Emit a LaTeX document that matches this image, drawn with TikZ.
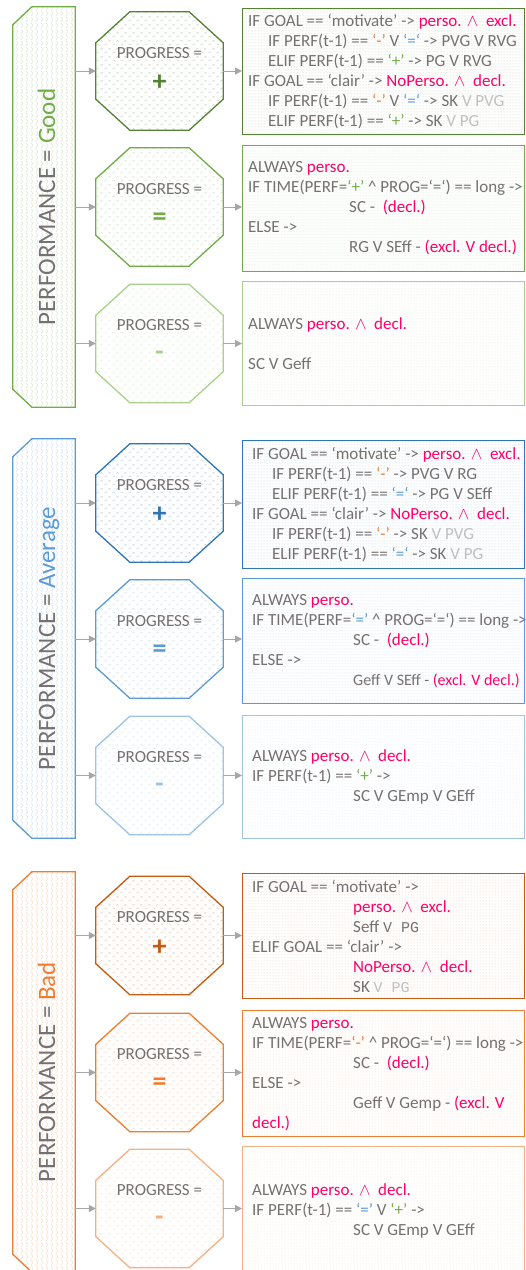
\documentclass[tikz,border=0pt]{standalone}
\usepackage{fontspec}
\setmainfont{Carlito}
\newfontfamily\cmono{Liberation Mono}
\usetikzlibrary{arrows.meta,patterns,calc}

\definecolor{gA}{HTML}{548235}
\definecolor{gB}{HTML}{70AD47}
\definecolor{gC}{HTML}{A9D18E}
\definecolor{bA}{HTML}{2E75B6}
\definecolor{bB}{HTML}{5B9BD5}
\definecolor{bC}{HTML}{9DC3E6}
\definecolor{oA}{HTML}{C55A11}
\definecolor{oB}{HTML}{ED7D31}
\definecolor{oC}{HTML}{F4B183}
\definecolor{tgray}{HTML}{767171}
\definecolor{lgray}{HTML}{BFBFBF}
\definecolor{agray}{HTML}{A6A6A6}
\definecolor{pinkred}{HTML}{FF0066}

\pgfdeclarepatternformonly{zigz}{\pgfpointorigin}{\pgfqpoint{5pt}{6pt}}{\pgfqpoint{5pt}{6pt}}{%
  \pgfsetlinewidth{0.5pt}%
  \pgfpathmoveto{\pgfqpoint{1pt}{0pt}}%
  \pgfpathlineto{\pgfqpoint{3.5pt}{3pt}}%
  \pgfpathlineto{\pgfqpoint{1pt}{6pt}}%
  \pgfusepath{stroke}}
\pgfdeclarepatternformonly{chev}{\pgfpointorigin}{\pgfqpoint{8pt}{8pt}}{\pgfqpoint{8pt}{8pt}}{%
  \pgfsetlinewidth{0.4pt}%
  \pgfpathmoveto{\pgfqpoint{0.5pt}{1pt}}%
  \pgfpathlineto{\pgfqpoint{2pt}{2.5pt}}%
  \pgfpathlineto{\pgfqpoint{3.5pt}{1pt}}%
  \pgfpathmoveto{\pgfqpoint{4.5pt}{5pt}}%
  \pgfpathlineto{\pgfqpoint{6pt}{6.5pt}}%
  \pgfpathlineto{\pgfqpoint{7.5pt}{5pt}}%
  \pgfusepath{stroke}}

\newcommand\cpk[1]{\textcolor{pinkred}{#1}}
\newcommand\cog[1]{\textcolor{oB}{#1}}
\newcommand\cbl[1]{\textcolor{bB}{#1}}
\newcommand\cgr[1]{\textcolor{gB}{#1}}
\newcommand\clg[1]{\textcolor{lgray}{#1}}
\newcommand\wdg{$\wedge$}
\newcommand\indA{\hspace*{20pt}}
\newcommand\indB{\hspace*{101pt}}
\newcommand\mono[1]{{\cmono\fontsize{15}{20}\selectfont #1}}

\tikzset{
  txt/.style={text=tgray, font=\fontsize{17}{20}\selectfont, align=left, inner sep=0pt, anchor=west},
  boxn/.style={draw=#1, line width=1.3pt, pattern=dots, pattern color=#1!35, minimum width=282pt, anchor=north west, inner sep=0pt},
  octn/.style={minimum width=127pt, minimum height=118pt, inner sep=0pt},
  octline/.style={draw=#1, line width=1.3pt, pattern=chev, pattern color=#1!35},
  banline/.style={draw=#1, line width=1.3pt, pattern=zigz, pattern color=#1!30},
  prog/.style={text=tgray, font=\fontsize{17}{20}\selectfont, inner sep=0pt},
  symb/.style={text=#1, font=\fontsize{28}{28}\selectfont\bfseries, inner sep=0pt},
  bantext/.style={text=tgray, font=\fontsize{25}{25}\selectfont, inner sep=0pt},
  arr/.style={draw=agray, line width=1pt, -{Triangle[length=7pt,width=7pt]}},
}

\newcommand\mkoct[4]{%
  \node[octn] (#1) at (159.5,#2) {};
  \draw[octline=#3] ([xshift=34pt]#1.north west) -- ([xshift=-34pt]#1.north east)
    -- ([yshift=-31pt]#1.north east) -- ([yshift=31pt]#1.south east)
    -- ([xshift=-34pt]#1.south east) -- ([xshift=34pt]#1.south west)
    -- ([yshift=31pt]#1.south west) -- ([yshift=-31pt]#1.north west) -- cycle;
  \node[prog] (#1t) at ([yshift=18pt]#1.center) {PROGRESS =};
  \node[symb=#3] (#1s) at ([yshift=-12pt]#1.center) {#4};
}
\newcommand\mkban[5]{%
  \node[minimum width=62pt, minimum height=#3, inner sep=0pt] (#1) at (44,#2) {};
  \draw[banline=#4] ([xshift=19pt]#1.north west) -- (#1.north east) -- (#1.south east)
    -- ([xshift=19pt]#1.south west) -- ([yshift=18pt]#1.south west)
    -- ([yshift=-18pt]#1.north west) -- cycle;
  \node[bantext, rotate=90, anchor=base] (#1t) at ([xshift=11pt]#1.center) {PERFORMANCE = \textcolor{#4}{#5}};
}

\begin{document}
\begin{tikzpicture}[x=1pt,y=-1pt]
\fill[white] (0,0) rectangle (526,1270);
\useasboundingbox (0,0) rectangle (526,1270);

% ---------------- GOOD ----------------
\mkban{gban}{207}{400pt}{gB}{Good}
\mkoct{go1}{71}{gA}{+}
\mkoct{go2}{207}{gB}{=}
\mkoct{go3}{343.5}{gC}{-}
\node[boxn=gA, minimum height=126pt] (gb1) at (242,8) {};
\node[boxn=gB, minimum height=126pt] (gb2) at (242,145) {};
\node[boxn=gC, minimum height=124pt] (gb3) at (242,281) {};
\node[txt] (gb1x) at ([xshift=6pt]gb1.west) {%
IF GOAL == ‘motivate’ -> \cpk{perso. \wdg\ \ excl.}\\
\indA IF PERF(t-1) == \cog{‘-’} V \cbl{‘=‘} -> PVG V RVG\\
\indA ELIF PERF(t-1) == \cgr{‘+’} -> PG V RVG\\
IF GOAL == ‘clair’ -> \cpk{NoPerso. \wdg\ \ decl.}\\
\indA IF PERF(t-1) == \cog{‘-’} V \cbl{‘=‘} -> SK \clg{V PVG}\\
\indA ELIF PERF(t-1) == \cgr{‘+’} -> SK \clg{V PG}};
\node[txt] (gb2x) at ([xshift=6pt]gb2.west) {%
ALWAYS \cpk{perso.}\\
IF TIME(PERF=\cgr{‘+’} \textasciicircum{} PROG=‘=‘) == long ->\\
\indB SC -\ \ \cpk{(decl.)}\\
ELSE ->\\
\indB RG V SEff - \cpk{(excl. V decl.)}};
\node[txt] (gb3x) at ([xshift=6pt]gb3.west) {%
ALWAYS \cpk{perso. \wdg\ \ decl.}\\[20pt]
SC V Geff};
\draw[arr] (gban.east |- go1.west) -- (go1.west);
\draw[arr] (gban.east |- go2.west) -- (go2.west);
\draw[arr] (gban.east |- go3.west) -- (go3.west);
\draw[arr] (go1.east) -- (go1.east -| gb1.west);
\draw[arr] (go2.east) -- (go2.east -| gb2.west);
\draw[arr] (go3.east) -- (go3.east -| gb3.west);

% ---------------- AVERAGE ----------------
\mkban{aban}{638.5}{399pt}{bB}{Average}
\mkoct{ao1}{503}{bA}{+}
\mkoct{ao2}{639}{bB}{=}
\mkoct{ao3}{775.5}{bC}{-}
\node[boxn=bA, minimum height=128pt] (ab1) at (242,440) {};
\node[boxn=bB, minimum height=125pt] (ab2) at (242,578) {};
\node[boxn=bC, minimum height=123pt] (ab3) at (242,715) {};
\node[txt] (ab1x) at ([xshift=10pt]ab1.west) {%
IF GOAL == ‘motivate’ -> \cpk{perso. \wdg\ \ excl.}\\
\indA IF PERF(t-1) == \cog{‘-’} -> PVG V RG\\
\indA ELIF PERF(t-1) == \cbl{‘=‘} -> PG V SEff\\
IF GOAL == ‘clair’ -> \cpk{NoPerso. \wdg\ \ decl.}\\
\indA IF PERF(t-1) == \cog{‘-’} -> SK \clg{V PVG}\\
\indA ELIF PERF(t-1) == \cbl{‘=‘} -> SK \clg{V PG}};
\node[txt] (ab2x) at ([xshift=10pt]ab2.west) {%
ALWAYS \cpk{perso.}\\
IF TIME(PERF=\cbl{‘=’} \textasciicircum{} PROG=‘=‘) == long ->\\
\indB SC -\ \ \cpk{(decl.)}\\
ELSE ->\\
\indB {\fontsize{16}{20}\selectfont Geff V SEff - \cpk{(excl. V decl.)}}};
\node[txt] (ab3x) at ([xshift=10pt]ab3.west) {%
ALWAYS \cpk{perso. \wdg\ \ decl.}\\
IF PERF(t-1) == \cgr{‘+’} ->\\
\indB SC V GEmp V GEff};
\draw[arr] (aban.east |- ao1.west) -- (ao1.west);
\draw[arr] (aban.east |- ao2.west) -- (ao2.west);
\draw[arr] (aban.east |- ao3.west) -- (ao3.west);
\draw[arr] (ao1.east) -- (ao1.east -| ab1.west);
\draw[arr] (ao2.east) -- (ao2.east -| ab2.west);
\draw[arr] (ao3.east) -- (ao3.east -| ab3.west);

% ---------------- BAD ----------------
\mkban{bban}{1072}{400pt}{oB}{Bad}
\mkoct{bo1}{935.5}{oA}{+}
\mkoct{bo2}{1072.5}{oB}{=}
\mkoct{bo3}{1208.5}{oC}{-}
\node[boxn=oA, minimum height=125pt] (bb1) at (242,873) {};
\node[boxn=oB, minimum height=126pt] (bb2) at (242,1010) {};
\node[boxn=oC, minimum height=126pt] (bb3) at (242,1146) {};
\node[txt] (bb1x) at ([xshift=10pt]bb1.west) {%
IF GOAL == ‘motivate’ ->\\
\indB \cpk{perso. \wdg\ \ excl.}\\
\indB Seff \mono{V PG}\\
ELIF GOAL == ‘clair’ ->\\
\indB \cpk{NoPerso. \wdg\ \ decl.}\\
\indB SK \clg{\mono{V PG}}};
\node[txt] (bb2x) at ([xshift=10pt]bb2.west) {%
ALWAYS \cpk{perso.}\\
IF TIME(PERF=\cog{‘-’} \textasciicircum{} PROG=‘=‘) == long ->\\
\indB SC -\ \ \cpk{(decl.)}\\
ELSE ->\\
\indB Geff V Gemp - \cpk{(excl. V}\\
\cpk{decl.)}};
\node[txt] (bb3x) at ([xshift=10pt,yshift=-1pt]bb3.west) {%
ALWAYS \cpk{perso. \wdg\ \ decl.}\\
IF PERF(t-1) == \cbl{‘=’} V \cgr{‘+’} ->\\
\indB SC V GEmp V GEff};
\draw[arr] (bban.east |- bo1.west) -- (bo1.west);
\draw[arr] (bban.east |- bo2.west) -- (bo2.west);
\draw[arr] (bban.east |- bo3.west) -- (bo3.west);
\draw[arr] (bo1.east) -- (bo1.east -| bb1.west);
\draw[arr] (bo2.east) -- (bo2.east -| bb2.west);
\draw[arr] (bo3.east) -- (bo3.east -| bb3.west);
\end{tikzpicture}
\end{document}
